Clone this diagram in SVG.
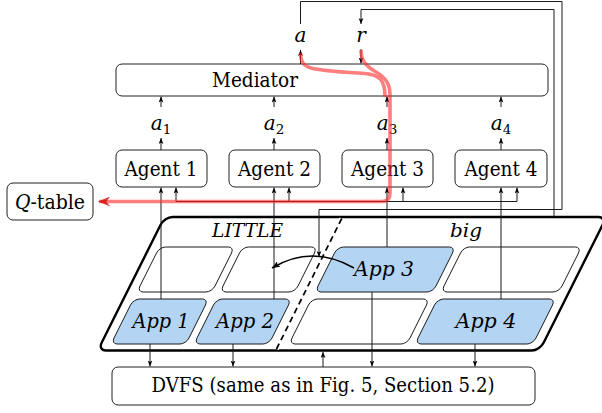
<svg xmlns="http://www.w3.org/2000/svg" width="602" height="413" viewBox="0 0 602 413">
<style>
.box{fill:#fff;stroke:#222;stroke-width:1}
.t{font-family:'DejaVu Serif','Liberation Serif',serif;font-size:20px;fill:#000;text-anchor:middle}
.it{font-style:italic}
.sm{font-size:19px}
.sub{font-size:13.5px}
.ln{fill:none;stroke:#1a1a1a;stroke-width:1}
.cell{stroke:#1a1a1a;stroke-width:1}
.red{fill:none;stroke:#ff2a2a;stroke-opacity:0.6;stroke-width:3.6;stroke-linejoin:round}
</style>
<defs>
<marker id="ah" viewBox="0 0 10 8" refX="10" refY="4" markerWidth="6" markerHeight="5" markerUnits="userSpaceOnUse" orient="auto">
<path d="M0,0 L10,4 L0,8 L2.5,4 z" fill="#000"/>
</marker>
<marker id="ahb" viewBox="0 0 10 8" refX="10" refY="4" markerWidth="8" markerHeight="6.5" markerUnits="userSpaceOnUse" orient="auto">
<path d="M0,0 L10,4 L0,8 L2.5,4 z" fill="#000"/>
</marker>
<marker id="ahr" viewBox="0 0 10 8" refX="9" refY="4" markerWidth="13" markerHeight="10" markerUnits="userSpaceOnUse" orient="auto">
<path d="M0,0 L10,4 L0,8 L3,4 z" fill="#d00000" fill-opacity="0.75"/>
</marker>
</defs>

<g id="platform">
<g transform="matrix(1 0 -0.5 1 175 0)">
<rect x="98" y="217" width="442" height="133.5" rx="8" fill="#fff" stroke="#000" stroke-width="2.4" vector-effect="non-scaling-stroke"/>
</g>
<text class="t it sm" x="247.5" y="237" textLength="71" lengthAdjust="spacingAndGlyphs">LITTLE</text>
<text class="t it sm" x="466" y="237" textLength="32" lengthAdjust="spacingAndGlyphs">big</text>
</g>

<g id="cell-little-top-1"><g transform="matrix(1 0 -0.5 1 175 0)"><rect class="cell" x="108" y="247" width="75" height="45" rx="6" fill="#fff" vector-effect="non-scaling-stroke"/></g></g>
<g id="cell-little-top-2"><g transform="matrix(1 0 -0.5 1 175 0)"><rect class="cell" x="191" y="247" width="75" height="45" rx="6" fill="#fff" vector-effect="non-scaling-stroke"/></g></g>
<g id="app3"><g transform="matrix(1 0 -0.5 1 175 0)"><rect class="cell" x="286" y="247" width="118" height="45" rx="6" fill="#b4d4f4" vector-effect="non-scaling-stroke"/></g>
<text class="t it" x="384" y="276" textLength="60" lengthAdjust="spacingAndGlyphs">App 3</text></g>
<g id="cell-big-top-4"><g transform="matrix(1 0 -0.5 1 175 0)"><rect class="cell" x="412" y="247" width="118" height="45" rx="6" fill="#fff" vector-effect="non-scaling-stroke"/></g></g>
<g id="app1"><g transform="matrix(1 0 -0.5 1 175 0)"><rect class="cell" x="108" y="299" width="75" height="45" rx="6" fill="#b4d4f4" vector-effect="non-scaling-stroke"/></g>
<text class="t it" x="161" y="328" textLength="57" lengthAdjust="spacingAndGlyphs">App 1</text></g>
<g id="app2"><g transform="matrix(1 0 -0.5 1 175 0)"><rect class="cell" x="191" y="299" width="75" height="45" rx="6" fill="#b4d4f4" vector-effect="non-scaling-stroke"/></g>
<text class="t it" x="245" y="328" textLength="58" lengthAdjust="spacingAndGlyphs">App 2</text></g>
<g id="cell-big-bottom-3"><g transform="matrix(1 0 -0.5 1 175 0)"><rect class="cell" x="286" y="299" width="118" height="45" rx="6" fill="#fff" vector-effect="non-scaling-stroke"/></g></g>
<g id="app4"><g transform="matrix(1 0 -0.5 1 175 0)"><rect class="cell" x="412" y="299" width="118" height="45" rx="6" fill="#b4d4f4" vector-effect="non-scaling-stroke"/></g>
<text class="t it" x="486" y="328" textLength="61" lengthAdjust="spacingAndGlyphs">App 4</text></g>

<g id="divider" transform="matrix(1 0 -0.5 1 175 0)">
<line x1="276" y1="218.5" x2="276" y2="349" stroke="#fff" stroke-width="5" vector-effect="non-scaling-stroke"/>
<line x1="276" y1="218.5" x2="276" y2="349" stroke="#000" stroke-width="1.7" stroke-dasharray="6 4" vector-effect="non-scaling-stroke"/>
</g>

<g id="mediator"><rect class="box" x="116" y="64" width="432" height="32" rx="6"/>
<text class="t" x="255" y="87" textLength="86" lengthAdjust="spacingAndGlyphs">Mediator</text></g>
<g id="agent1"><rect class="box" x="116" y="150" width="91" height="37" rx="6"/><text class="t" x="161" y="175.5" textLength="73" lengthAdjust="spacingAndGlyphs">Agent 1</text></g>
<g id="agent2"><rect class="box" x="229" y="150" width="91" height="37" rx="6"/><text class="t" x="274.5" y="175.5" textLength="73" lengthAdjust="spacingAndGlyphs">Agent 2</text></g>
<g id="agent3"><rect class="box" x="342" y="150" width="91" height="37" rx="6"/><text class="t" x="387.5" y="175.5" textLength="73" lengthAdjust="spacingAndGlyphs">Agent 3</text></g>
<g id="agent4"><rect class="box" x="455" y="150" width="92" height="37" rx="6"/><text class="t" x="501" y="175.5" textLength="73" lengthAdjust="spacingAndGlyphs">Agent 4</text></g>
<g id="qtable"><rect class="box" x="7" y="183" width="86" height="37" rx="6"/>
<text class="t" x="50" y="208.5" textLength="70" lengthAdjust="spacingAndGlyphs"><tspan class="it">Q</tspan>-table</text></g>
<g id="dvfs"><rect class="box" x="112" y="367" width="423" height="38" rx="6"/>
<text class="t" x="323" y="392" textLength="343" lengthAdjust="spacingAndGlyphs">DVFS (same as in Fig. 5, Section 5.2)</text></g>

<g id="label-a"><text class="t it" x="300.5" y="42">a</text></g>
<g id="label-r"><text class="t it" x="361" y="42">r</text></g>
<g id="label-a1"><text class="t" x="161" y="130"><tspan class="it">a</tspan><tspan class="sub" dy="4">1</tspan></text></g>
<g id="label-a2"><text class="t" x="274" y="130"><tspan class="it">a</tspan><tspan class="sub" dy="4">2</tspan></text></g>
<g id="label-a3"><text class="t" x="387" y="130"><tspan class="it">a</tspan><tspan class="sub" dy="4">3</tspan></text></g>
<g id="label-a4"><text class="t" x="501" y="130"><tspan class="it">a</tspan><tspan class="sub" dy="4">4</tspan></text></g>

<g id="connectors">
<g class="ln" marker-end="url(#ah)">
<path d="M161 150V138"/><path d="M274 150V138"/><path d="M387 150V138"/><path d="M501 150V138"/>
<path d="M161 107V96.5"/><path d="M274 107V96.5"/><path d="M387 107V96.5"/><path d="M501 107V96.5"/>
<path d="M300.5 64V50"/>
<path d="M361 49V63.5"/>
<path d="M300.5 24V1.5H562V209.5H319V257"/>
<path d="M554 216.5V9.5H361V24"/>
<path d="M161 299V187.5"/><path d="M274 299V187.5"/><path d="M387 247V187.5"/><path d="M501 299V187.5"/>
<path d="M176 201.5V187.5"/><path d="M289 201.5V187.5"/><path d="M403 201.5V187.5"/><path d="M517 201.5V187.5"/>
<path d="M150 344V366.5"/><path d="M233 344V366.5"/><path d="M372 292V366.5"/><path d="M475 344V366.5"/>
<path d="M323 367V352"/>
</g>
<path class="ln" d="M176 201.5H517"/>
<path d="M354 268Q312 244 272 268" fill="none" stroke="#000" stroke-width="1.5" marker-end="url(#ahb)"/>
<path class="red" d="M385 97C385 80 380 75 365 73.5C342 72 322 71 311 68C303 66 300.5 61 300.5 53"/>
<path class="red" d="M361 50C361 61 366 66 376 72C386 78 390 84 390 95V193Q390 201.5 382 201.5H99" marker-end="url(#ahr)"/>
</g>
</svg>
